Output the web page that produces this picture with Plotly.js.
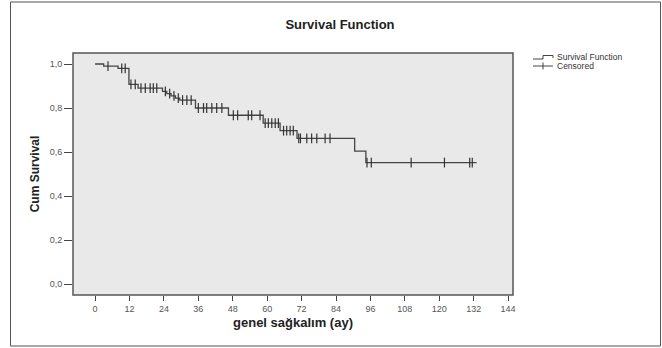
<!DOCTYPE html>
<html>
<head>
<meta charset="utf-8">
<script src="https://cdn.plot.ly/plotly-3.0.1.min.js"></script>
<style>html,body{margin:0;padding:0;background:#fff;}#chart{width:662px;height:348px;}</style>
</head>
<body>
<div id="chart"></div>
<script>
// ---- data ----
var eventTimes = [0, 3, 8, 11.8, 15, 23.5, 25, 26.5, 28, 29.5, 35, 46.5, 58.6, 64.5, 70.4, 90.5, 94.4];
var survival   = [1.0, 0.99, 0.98, 0.907, 0.89, 0.876, 0.865, 0.855, 0.845, 0.836, 0.80, 0.767, 0.731, 0.697, 0.662, 0.604, 0.552];
var lastFollowUp = 133;
var censorTimes = [4.5, 9.3, 10.5, 12.5, 14, 16, 17.5, 19.2, 20.3, 21.5,
  24.5, 26, 27.5, 29, 30.5, 32, 33.5,
  36, 37.8, 38.9, 40.7, 42.4, 44.2,
  48.2, 49.7, 53.4, 54.6, 57.5,
  59.3, 60.4, 61.6, 62.8, 63.9,
  65.7, 66.8, 68, 69.1,
  71, 71.6, 73.8, 75.5, 77.3, 80.2, 81.9,
  94.8, 96.3, 110.2, 121.8, 130.6, 131.5];
var xTicks = [0, 12, 24, 36, 48, 60, 72, 84, 96, 108, 120, 132, 144];
var yTicks = [0, 0.2, 0.4, 0.6, 0.8, 1.0];
var chartTitle = 'Survival Function';
var xTitle = 'genel sağkalım (ay)';
var yTitle = 'Cum Survival';
var legendNames = ['Survival Function', 'Censored'];

// step function lookup
function survAt(t) {
  var s = survival[0];
  for (var i = 0; i < eventTimes.length; i++) { if (eventTimes[i] <= t) s = survival[i]; }
  return s;
}
var stepX = eventTimes.concat([lastFollowUp]);
var stepY = survival.concat([survival[survival.length - 1]]);
var censorY = censorTimes.map(survAt);

// pixel -> paper helpers (plot area 73..513 x, 53..295 y)
var L = 73, R = 513, T = 53, B = 295;
function px(x) { return (x - L) / (R - L); }
function py(y) { return (B - y) / (B - T); }

var FONT = 'Liberation Sans, Arial, sans-serif';

var traces = [
  { x: stepX, y: stepY, mode: 'lines', line: { shape: 'hv', color: '#444', width: 1.3 },
    name: legendNames[0], showlegend: false, hoverinfo: 'skip' },
  { x: censorTimes, y: censorY, mode: 'markers', name: legendNames[1], showlegend: false,
    marker: { symbol: 'line-ns-open', size: 7, color: '#333', line: { color: '#333', width: 1.2 } }, hoverinfo: 'skip' }
];

var shapes = [
  // outer frame
  { type: 'rect', xref: 'paper', yref: 'paper', x0: px(10.5), x1: px(660.5), y0: py(2), y1: py(346),
    line: { color: '#555', width: 1 }, layer: 'below' },
  // plot box
  { type: 'rect', xref: 'paper', yref: 'paper', x0: 0, x1: 1, y0: 0, y1: 1,
    line: { color: '#555', width: 1.5 } },
  // legend: step glyph
  { type: 'path', xref: 'paper', yref: 'paper',
    path: 'M ' + px(533) + ' ' + py(59) + ' L ' + px(543) + ' ' + py(59) + ' L ' + px(543) + ' ' + py(55.5) +
          ' L ' + px(553) + ' ' + py(55.5) + ' L ' + px(553) + ' ' + py(58),
    line: { color: '#444', width: 1 } },
  // legend: censored glyph
  { type: 'line', xref: 'paper', yref: 'paper', x0: px(533), x1: px(553), y0: py(66), y1: py(66),
    line: { color: '#444', width: 1 } },
  { type: 'line', xref: 'paper', yref: 'paper', x0: px(543), x1: px(543), y0: py(62.5), y1: py(69.5),
    line: { color: '#444', width: 1 } }
];

var annotations = [
  { xref: 'paper', yref: 'paper', x: px(555), y: py(57), xanchor: 'left', yanchor: 'middle', showarrow: false,
    text: legendNames[0], font: { family: FONT, size: 8.5, color: '#333' } },
  { xref: 'paper', yref: 'paper', x: px(555), y: py(66), xanchor: 'left', yanchor: 'middle', showarrow: false,
    text: legendNames[1], font: { family: FONT, size: 8.5, color: '#333' } }
];

var layout = {
  width: 662, height: 348,
  margin: { l: L, r: 662 - R, t: T, b: 348 - B, pad: 0 },
  paper_bgcolor: '#ffffff',
  plot_bgcolor: '#e9e9e9',
  separators: ',.',
  showlegend: false,
  title: { text: '<b>' + chartTitle + '</b>', x: 340 / 662, xanchor: 'center', y: 1 - 24 / 348, yanchor: 'middle',
    font: { family: FONT, size: 13, color: '#222' } },
  xaxis: {
    range: [-7.7, 145.7], tickvals: xTicks, ticktext: xTicks.map(String),
    showgrid: false, zeroline: false, showline: false,
    ticks: 'outside', ticklen: 5, tickwidth: 1, tickcolor: '#444',
    tickfont: { family: FONT, size: 9, color: '#555' },
    title: { text: '<b>' + xTitle + '</b>', standoff: 5,
      font: { family: FONT, size: 13, color: '#222' } }
  },
  yaxis: {
    range: [-0.05, 1.05], tickvals: yTicks, tickformat: '.1f',
    showgrid: false, zeroline: false, showline: false,
    ticks: 'outside', ticklen: 8, tickwidth: 1, tickcolor: '#444',
    tickfont: { family: FONT, size: 9, color: '#555' },
    title: { text: '<b>' + yTitle + '</b>', standoff: 7,
      font: { family: FONT, size: 12, color: '#222' } }
  },
  shapes: shapes,
  annotations: annotations
};

Plotly.newPlot('chart', traces, layout, { staticPlot: true, displayModeBar: false });
</script>
</body>
</html>
